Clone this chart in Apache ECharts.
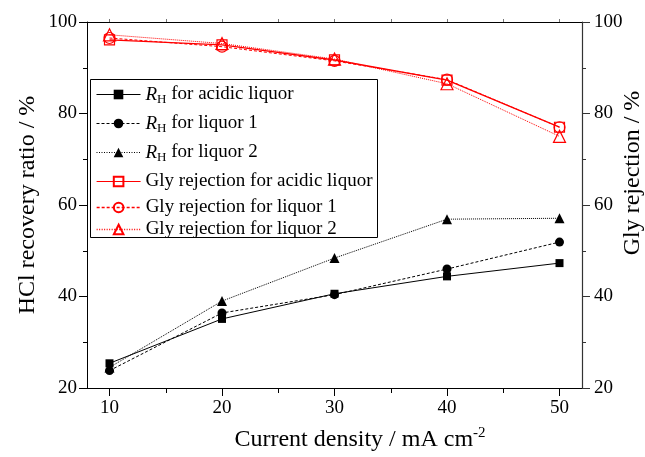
<!DOCTYPE html>
<html>
<head>
<meta charset="utf-8">
<script src="https://cdn.jsdelivr.net/npm/echarts@6/dist/echarts.min.js"></script>
<style>
  html, body { margin: 0; padding: 0; background: #fff; }
  #chart { width: 645px; height: 457px; }
</style>
</head>
<body>
<div id="chart"></div>
<script>
// Current density (mA cm^-2)
const currentDensity = [10, 20, 30, 40, 50];

// HCl recovery ratio R_H (%)
const rhAcidic  = [25.4, 35.1, 40.6, 44.4, 47.3];
const rhLiquor1 = [23.8, 36.4, 40.4, 46.0, 51.9];
const rhLiquor2 = [24.5, 39.0, 48.4, 56.9, 57.1];

// Gly rejection (%)
const glyAcidic  = [96.1, 95.0, 91.7, 87.3, 77.0];
const glyLiquor1 = [96.5, 94.6, 91.5, 87.4, 77.0];
const glyLiquor2 = [97.2, 95.3, 91.9, 86.5, 75.0];

const yTicks = [20, 40, 60, 80, 100];
const xTicks = [10, 20, 30, 40, 50];
const xMinorTicks = [15, 25, 35, 45];

const seriesNames = [
  'RH for acidic liquor',
  'RH for liquor 1',
  'RH for liquor 2',
  'Gly rejection for acidic liquor',
  'Gly rejection for liquor 1',
  'Gly rejection for liquor 2'
];

const FONT = '"Liberation Serif", "Times New Roman", serif';
const RED = '#ff0000';

const SOLID = 'solid';
const DASHED = [3, 2];
const DOTTED = [1, 1];

const pairs = ys => currentDensity.map((x, i) => [x, ys[i]]);

function blackSeries(name, ys, symbol, size, lineType) {
  return {
    name, type: 'line', yAxisIndex: 0, data: pairs(ys),
    symbol, symbolSize: size,
    itemStyle: { color: '#000' },
    lineStyle: { color: '#000', width: 1, type: lineType },
    z: 3
  };
}
function redSeries(name, ys, symbol, size, lineType, width) {
  return {
    name, type: 'line', yAxisIndex: 1, data: pairs(ys),
    symbol, symbolSize: size,
    itemStyle: { color: 'rgba(255,255,255,0)', borderColor: RED, borderWidth: 1.2 },
    lineStyle: { color: RED, width, type: lineType },
    z: 4
  };
}

const series = [
  blackSeries(seriesNames[0], rhAcidic, 'rect', 8, SOLID),
  blackSeries(seriesNames[1], rhLiquor1, 'circle', 9, DASHED),
  blackSeries(seriesNames[2], rhLiquor2, 'triangle', 10, DOTTED),
  redSeries(seriesNames[3], glyAcidic, 'rect', 10, SOLID, 1.4),
  redSeries(seriesNames[4], glyLiquor1, 'circle', 11, DASHED, 1),
  redSeries(seriesNames[5], glyLiquor2, 'triangle', 12, DOTTED, 1)
];

// one legend per row so rows can sit at their own heights
const legendRowTops = [85, 114, 143, 172, 198, 220];
const legendLines = [
  { width: 1, type: SOLID, color: '#000' },
  { width: 1, type: DASHED, color: '#000' },
  { width: 1, type: [1, 1.5], color: '#000' },
  { width: 1.2, type: SOLID, color: RED },
  { width: 1.3, type: DASHED, color: RED },
  { width: 1.3, type: [1, 1.5], color: RED }
];
const legends = seriesNames.map((n, i) => ({
  data: [n],
  left: 96,
  top: legendRowTops[i],
  padding: 0,
  itemWidth: 44,
  itemHeight: 12,
  itemGap: 0,
  selectedMode: false,
  lineStyle: legendLines[i],
  formatter: name => name.startsWith('RH')
    ? '{it|R}{sub|H}' + name.slice(2)
    : name,
  textStyle: {
    fontFamily: FONT, fontSize: 19, color: '#000',
    rich: {
      it: { fontFamily: FONT, fontSize: 19, fontStyle: 'italic', color: '#000' },
      sub: { fontFamily: FONT, fontSize: 13, color: '#000', padding: [11, 0, 0, 0] }
    }
  }
}));

const valueAxisCommon = {
  type: 'value', min: 20, max: 100, interval: 20,
  splitLine: { show: false },
  minorSplitLine: { show: false },
  axisLine: { show: true, lineStyle: { color: '#000', width: 1 } },
  axisTick: { show: true, inside: false, length: 8, lineStyle: { color: '#000' } },
  minorTick: { show: true, splitNumber: 2, length: 4, lineStyle: { color: '#000' } },
  axisLabel: { fontFamily: FONT, fontSize: 19, color: '#000' }
};

const option = {
  backgroundColor: '#fff',
  animation: false,
  grid: { left: 87, right: 63, top: 22, bottom: 69 },
  legend: legends,
  xAxis: [
    {
      type: 'value', min: 8, max: 52, position: 'bottom',
      splitLine: { show: false },
      axisLine: { show: true, onZero: false, lineStyle: { color: '#000' } },
      axisTick: { show: true, length: 8, customValues: xTicks, lineStyle: { color: '#000' } },
      axisLabel: { customValues: xTicks, fontFamily: FONT, fontSize: 19, color: '#000', margin: 11 }
    },
    {
      type: 'value', min: 8, max: 52, position: 'bottom',
      splitLine: { show: false },
      axisLine: { show: false, onZero: false },
      axisTick: { show: true, length: 5, customValues: xMinorTicks, lineStyle: { color: '#000' } },
      axisLabel: { show: false }
    },
    {
      type: 'value', min: 8, max: 52, position: 'top',
      splitLine: { show: false },
      axisLine: { show: true, onZero: false, lineStyle: { color: '#000' } },
      axisTick: { show: true, length: 3, customValues: xTicks.concat(xMinorTicks), lineStyle: { color: '#777' } },
      axisLabel: { show: false }
    }
  ],
  yAxis: [
    Object.assign({}, valueAxisCommon, {
      position: 'left',
      axisLabel: Object.assign({}, valueAxisCommon.axisLabel, { margin: 10 })
    }),
    Object.assign({}, valueAxisCommon, {
      position: 'right',
      axisLine: { show: true, lineStyle: { color: '#333', width: 1.2 } },
      axisTick: { show: true, length: 8, lineStyle: { color: '#333' } },
      minorTick: { show: true, splitNumber: 2, length: 4, lineStyle: { color: '#333' } },
      axisLabel: Object.assign({}, valueAxisCommon.axisLabel, { margin: 12 })
    })
  ],
  graphic: [
    {
      type: 'rect', left: 90, top: 79, z: 2,
      shape: { width: 287, height: 158 },
      style: { fill: '#fff', stroke: '#000', lineWidth: 1 }
    },
    {
      type: 'text', x: 28, y: 205, rotation: Math.PI / 2, z: 5,
      style: {
        text: 'HCl recovery ratio / %', fontFamily: FONT, fontSize: 24,
        fill: '#000', align: 'center', verticalAlign: 'middle'
      }
    },
    {
      type: 'text', x: 633, y: 173, rotation: Math.PI / 2, z: 5,
      style: {
        text: 'Gly rejection / %', fontFamily: FONT, fontSize: 24,
        fill: '#000', align: 'center', verticalAlign: 'middle'
      }
    },
    {
      type: 'text', x: 360, y: 440, z: 5,
      style: {
        text: '{a|Current density / mA cm}{s|-2}',
        align: 'center', verticalAlign: 'middle',
        rich: {
          a: { fontFamily: FONT, fontSize: 24, fill: '#000', color: '#000' },
          s: { fontFamily: FONT, fontSize: 15, fill: '#000', color: '#000', padding: [0, 0, 14, 0] }
        }
      }
    }
  ],
  series
};

const chart = echarts.init(document.getElementById('chart'), null, { renderer: 'canvas' });
chart.setOption(option);
</script>
</body>
</html>
